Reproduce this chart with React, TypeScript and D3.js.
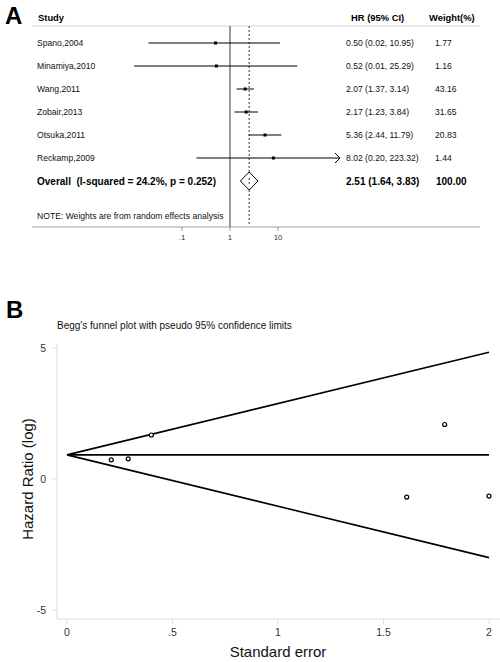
import { useEffect, useRef } from 'react';
import * as d3 from 'd3';

// panel A: forest plot
const studies = ['Spano,2004', 'Minamiya,2010', 'Wang,2011', 'Zobair,2013', 'Otsuka,2011', 'Reckamp,2009'];
const hr = [0.5, 0.52, 2.07, 2.17, 5.36, 8.02];
const lower = [0.02, 0.01, 1.37, 1.23, 2.44, 0.2];
const upper = [10.95, 25.29, 3.14, 3.84, 11.79, 223.32];
const weights = ['1.77', '1.16', '43.16', '31.65', '20.83', '1.44'];
const overall = { hr: 2.51, lo: 1.64, hi: 3.83, text: '2.51 (1.64, 3.83)', weight: '100.00' };
const forestTicks = [0.1, 1, 10];
const forestTickLabels = ['.1', '1', '10'];

// panel B: Begg's funnel plot
const seVals = [1.61, 2.0, 0.21, 0.29, 0.4, 1.79];
const logHr = [-0.69, -0.65, 0.73, 0.77, 1.68, 2.08];
const funnelSe = [0, 2];
const funnelUpper = [0.92, 4.84];
const funnelMid = [0.92, 0.92];
const funnelLower = [0.92, -3.0];
const xTicks = [0, 0.5, 1, 1.5, 2];
const xTickLabels = ['0', '.5', '1', '1.5', '2'];
const yTicks = [5, 0, -5];

const fmt = (v: number) => v.toFixed(2);

export default function App() {
  const ref = useRef<SVGSVGElement>(null);

  useEffect(() => {
    const svg = d3.select(ref.current);
    svg.selectAll('*').remove();
    const font = 'Liberation Sans, Arial, sans-serif';

    // ---------- A ----------
    const x = d3.scaleLog().domain([0.01, 100]).range([134, 326]);
    const xMax = 340; // arrow clip
    const row = d3.scaleLinear().domain([0, 1]).range([43, 66]);

    svg.append('text').attr('x', 5).attr('y', 24).text('A')
      .attr('font-family', font).attr('font-weight', 900).attr('font-size', 24);

    const head = svg.append('g').attr('font-family', font).attr('font-size', 9.4).attr('font-weight', 'bold');
    head.append('text').attr('x', 38).attr('y', 21).text('Study');
    head.append('text').attr('x', 351).attr('y', 21).text('HR (95% CI)');
    head.append('text').attr('x', 429).attr('y', 21).text('Weight(%)');

    svg.append('line').attr('x1', 32).attr('x2', 480).attr('y1', 26).attr('y2', 26)
      .attr('stroke', '#ccc').attr('stroke-width', 0.8);

    // reference lines
    svg.append('line').attr('x1', x(1)).attr('x2', x(1)).attr('y1', 26).attr('y2', 227)
      .attr('stroke', '#000').attr('stroke-width', 0.8);
    svg.append('line').attr('x1', x(overall.hr)).attr('x2', x(overall.hr)).attr('y1', 26).attr('y2', 224)
      .attr('stroke', '#000').attr('stroke-width', 0.8).attr('stroke-dasharray', '2,2');

    const rows = svg.append('g').attr('font-family', font).attr('font-size', 8.6).attr('fill', '#111');
    studies.forEach((s, i) => {
      const y = row(i);
      rows.append('text').attr('x', 37).attr('y', y + 3).text(s);
      rows.append('text').attr('x', 346).attr('y', y + 3).text(`${fmt(hr[i])} (${fmt(lower[i])}, ${fmt(upper[i])})`);
      rows.append('text').attr('x', 435).attr('y', y + 3).text(weights[i]);
      const x2 = Math.min(x(upper[i]), xMax);
      svg.append('line').attr('x1', x(lower[i])).attr('x2', x2).attr('y1', y).attr('y2', y)
        .attr('stroke', '#000').attr('stroke-width', 1);
      if (x(upper[i]) > xMax) {
        svg.append('path').attr('d', `M${xMax - 5},${y - 5}L${xMax},${y}L${xMax - 5},${y + 5}`)
          .attr('fill', 'none').attr('stroke', '#000').attr('stroke-width', 1);
      }
      svg.append('rect').attr('x', x(hr[i]) - 1.5).attr('y', y - 1.5).attr('width', 3).attr('height', 3)
        .attr('fill', '#000');
    });

    const oy = row(6);
    const ob = svg.append('g').attr('font-family', font).attr('font-size', 10).attr('font-weight', 'bold');
    ob.append('text').attr('x', 37).attr('y', oy + 4).text('Overall\u00a0 (I-squared = 24.2%, p = 0.252)');
    ob.append('text').attr('x', 346).attr('y', oy + 4).text(overall.text);
    ob.append('text').attr('x', 436).attr('y', oy + 4).text(overall.weight);
    svg.append('path')
      .attr('d', `M${x(overall.lo)},${oy}L${x(overall.hr)},${oy - 9}L${x(overall.hi)},${oy}L${x(overall.hr)},${oy + 9}Z`)
      .attr('fill', '#fff').attr('stroke', '#000').attr('stroke-width', 1);
    svg.append('line').attr('x1', x(overall.hr)).attr('x2', x(overall.hr)).attr('y1', oy - 3).attr('y2', oy + 3)
      .attr('stroke', '#000').attr('stroke-width', 0.8).attr('stroke-dasharray', '2,2');

    rows.append('text').attr('x', 37).attr('y', 219).text('NOTE: Weights are from random effects analysis');

    svg.append('line').attr('x1', 32).attr('x2', 480).attr('y1', 227).attr('y2', 227)
      .attr('stroke', '#888').attr('stroke-width', 0.8);
    const ft = svg.append('g').attr('font-family', font).attr('font-size', 7.8).attr('fill', '#333');
    forestTicks.forEach((t, i) => {
      svg.append('line').attr('x1', x(t)).attr('x2', x(t)).attr('y1', 227).attr('y2', 231)
        .attr('stroke', '#888').attr('stroke-width', 0.8);
      ft.append('text').attr('x', x(t)).attr('y', 240).attr('text-anchor', 'middle').text(forestTickLabels[i]);
    });

    // ---------- B ----------
    svg.append('text').attr('x', 6).attr('y', 318).text('B')
      .attr('font-family', font).attr('font-weight', 900).attr('font-size', 24);

    svg.append('text').attr('x', 57).attr('y', 329).text("Begg's funnel plot with pseudo 95% confidence limits")
      .attr('font-family', font).attr('font-size', 10).attr('fill', '#111');

    const bx = d3.scaleLinear().domain([0, 2]).range([67, 489]);
    const by = d3.scaleLinear().domain([-5, 5]).range([610, 348]);

    const axisCol = '#ddd';
    svg.append('line').attr('x1', 57).attr('x2', 57).attr('y1', 344).attr('y2', 619)
      .attr('stroke', axisCol).attr('stroke-width', 1);
    svg.append('line').attr('x1', 57).attr('x2', 500).attr('y1', 619).attr('y2', 619)
      .attr('stroke', axisCol).attr('stroke-width', 1);

    const tl = svg.append('g').attr('font-family', font).attr('font-size', 10.5).attr('fill', '#333');
    yTicks.forEach((t) => {
      svg.append('line').attr('x1', 52).attr('x2', 57).attr('y1', by(t)).attr('y2', by(t))
        .attr('stroke', axisCol).attr('stroke-width', 1);
      tl.append('text').attr('x', 46).attr('y', by(t) + 4).attr('text-anchor', 'end').text(String(t));
    });
    xTicks.forEach((t, i) => {
      svg.append('line').attr('x1', bx(t)).attr('x2', bx(t)).attr('y1', 619).attr('y2', 624)
        .attr('stroke', axisCol).attr('stroke-width', 1);
      tl.append('text').attr('x', bx(t)).attr('y', 636).attr('text-anchor', 'middle').text(xTickLabels[i]);
    });

    const line = d3.line<number>().x((_, i) => bx(funnelSe[i])).y((d) => by(d));
    [funnelUpper, funnelMid, funnelLower].forEach((ys) => {
      svg.append('path').attr('d', line(ys)).attr('fill', 'none').attr('stroke', '#000').attr('stroke-width', 1.6);
    });

    seVals.forEach((s, i) => {
      svg.append('circle').attr('cx', bx(s)).attr('cy', by(logHr[i])).attr('r', 2)
        .attr('fill', '#fff').attr('stroke', '#000').attr('stroke-width', 1.2);
    });

    svg.append('text').attr('x', bx(1)).attr('y', 657).attr('text-anchor', 'middle').text('Standard error')
      .attr('font-family', font).attr('font-size', 15).attr('fill', '#111');
    svg.append('text').attr('transform', `translate(33,${by(0)}) rotate(-90)`).attr('text-anchor', 'middle')
      .text('Hazard Ratio (log)')
      .attr('font-family', font).attr('font-size', 15).attr('fill', '#111');
  }, []);

  return (
    <svg ref={ref} width={500} height={662}
      style={{ position: 'absolute', left: 0, top: 0, background: '#fff' }} />
  );
}
